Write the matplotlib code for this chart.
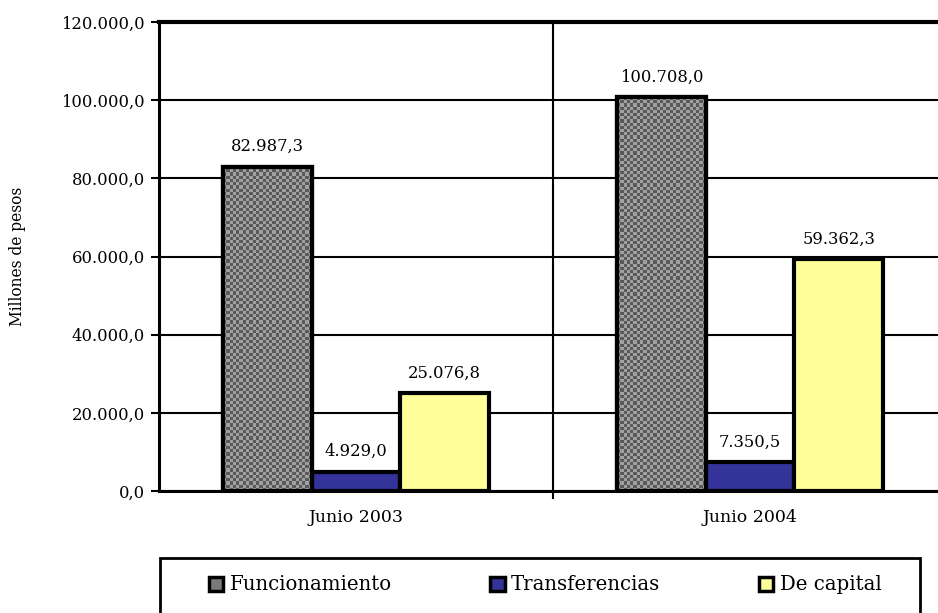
import matplotlib
matplotlib.use("Agg")
import matplotlib.pyplot as plt
import numpy as np
from matplotlib.patches import Patch, Rectangle
from matplotlib.colors import ListedColormap

categories = ["Junio 2003", "Junio 2004"]
series = ["Funcionamiento", "Transferencias", "De capital"]
funcionamiento = [82987.3, 100708.0]
transferencias = [4929.0, 7350.5]
de_capital = [25076.8, 59362.3]
yticks = [0, 20000, 40000, 60000, 80000, 100000, 120000]

colors = ["#7a7a7a", "#333399", "#ffff99"]

plt.rcParams['font.family'] = ['DejaVu Serif']

W, H = 938, 613
fig = plt.figure(figsize=(W / 100, H / 100), dpi=100)
ax = fig.add_axes([159 / W, (H - 491) / H, (947 - 159) / W, (491 - 22) / H])

def fmt(v):
    s = f"{v:,.1f}"
    return s.replace(",", "X").replace(".", ",").replace("X", ".")

x = np.arange(len(categories))
bw = 0.225
vals = [funcionamiento, transferencias, de_capital]
offsets = [-bw, 0, bw]
bars_all = []
for i, (v, off) in enumerate(zip(vals, offsets)):
    bars = ax.bar(x + off, v, width=bw, color=colors[i], edgecolor="black",
                  linewidth=3, zorder=3)
    bars_all.append(bars)
    for b, val in zip(bars, v):
        ax.annotate(fmt(val), (b.get_x() + b.get_width() / 2, b.get_height()),
                    xytext=(0, 14.5), textcoords="offset points", ha="center",
                    va="center", fontsize=11.8)

# checker texture for first series
cm = ListedColormap(["#5a5a5a", "#a0a0a0"])
for b in bars_all[0]:
    x0, w, h = b.get_x(), b.get_width(), b.get_height()
    nx = int(w * 394 / 3.2)
    ny = int(h / 120000 * 469 / 3.2)
    arr = (np.indices((ny, nx)).sum(axis=0) % 2).astype(float)
    im = ax.imshow(arr, cmap=cm, extent=[x0, x0 + w, 0, h], aspect="auto",
                   interpolation="nearest", zorder=3.5)
    im.set_clip_path(b)
    edge = Rectangle((x0, 0), w, h, facecolor="none", edgecolor="black",
                     linewidth=3, zorder=4)
    ax.add_patch(edge)

ax.set_xlim(-0.5, 1.5)
ax.set_ylim(0, 120000)
ax.set_yticks(yticks)
ax.set_yticklabels([fmt(t) for t in yticks], fontsize=11.8)
ax.set_xticks(x)
ax.set_xticklabels(categories, fontsize=12.5)
ax.tick_params(axis="x", length=0, pad=13)
ax.tick_params(axis="y", length=6, width=1.5, direction="out", pad=4)
ax.yaxis.grid(True, color="black", linewidth=1.5, zorder=1)
ax.set_axisbelow(True)
ax.axvline(0.5, color="black", linewidth=1.5, zorder=1)
ax.plot([0.5, 0.5], [0, -1700], color="black", linewidth=1.5, clip_on=False)

for s in ["left", "bottom"]:
    ax.spines[s].set_linewidth(2.2)
ax.spines["top"].set_linewidth(3)
ax.spines["right"].set_visible(False)

fig.text(18 / W, 1 - 256 / H, "Millones de pesos", rotation=90, ha="center",
         va="center", fontsize=11.2)

# legend box
fig.patches.append(Rectangle((160 / W, -0.05), (920 - 160) / W, (H - 558) / H + 0.05,
                             transform=fig.transFigure, facecolor="white",
                             edgecolor="black", linewidth=2))
fs = 14.2
handles = [Patch(facecolor=c, edgecolor="black", linewidth=2.5) for c in colors]
fig.legend(handles, series, loc="center left",
           bbox_to_anchor=(209 / W, 1 - 585 / H), ncol=3, frameon=False,
           fontsize=fs, handlelength=0.72, handleheight=0.72, handletextpad=0.33,
           columnspacing=5.0, borderaxespad=0, borderpad=0)

fig.savefig("out.png", dpi=100)
